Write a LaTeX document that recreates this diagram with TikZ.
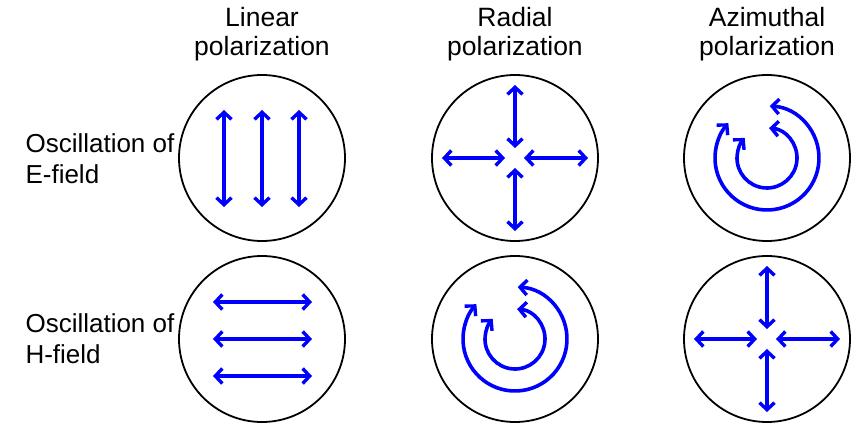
\documentclass[tikz,border=0pt]{standalone}
\usepackage{fontspec}
\setmainfont{Liberation Sans}
\usepackage{tikz}
\usetikzlibrary{arrows.meta}
\definecolor{FieldBlue}{HTML}{0000FF}
\tikzset{
  fieldarrow/.style={{Straight Barb[length=7pt,width=15pt,line width=3.4pt]}-{Straight Barb[length=7pt,width=15pt,line width=3.4pt]},
    line width=3.6pt, draw=FieldBlue, line cap=round},
  ring/.style={circle, draw=black, line width=1.8pt, minimum size=166pt, inner sep=0pt},
  heading/.style={align=center, font=\fontsize{26.5}{29}\selectfont}
}

\begin{document}
\begin{tikzpicture}[
  x=1pt, y=1pt,
  rowlabel/.style={align=left, anchor=base west, font=\fontsize{26}{31}\selectfont}
]
\useasboundingbox (0,0) rectangle (855,-423);

% column headings (base = last line)
\node[heading, anchor=base] at (262,-56) (hLin) {Linear\\polarization};
\node[heading, anchor=base] at (515,-56) (hRad) {Radial\\polarization};
\node[heading, anchor=base] at (767,-56) (hAzi) {Azimuthal\\polarization};

% row labels
\node[rowlabel] at (22,-183) (lE) {Oscillation of\\E-field};
\node[rowlabel] at (22,-363) (lH) {Oscillation of\\H-field};

% one ring per case
\node[ring] at (262,-158) (linE) {};
\node[ring] at (515,-158) (radE) {};
\node[ring] at (767,-158) (aziE) {};
\node[ring] at (262,-339) (linH) {};
\node[ring] at (515,-339) (radH) {};
\node[ring] at (767,-339) (aziH) {};

% linear: straight oscillation
\begin{scope}[shift={(linE.center)}]
  \foreach \dx in {-38,0,37}
    \draw[fieldarrow] (\dx,48) -- (\dx,-49);
\end{scope}
\begin{scope}[shift={(linH.center)}]
  \foreach \dy in {37,0,-37}
    \draw[fieldarrow] (-49,\dy) -- (50,\dy);
\end{scope}

% radial / azimuthal cross
\foreach \c in {radE,aziH}{
  \begin{scope}[shift={(\c.center)}]
    \draw[fieldarrow] (0,10) -- (0,73);
    \draw[fieldarrow] (0,-10) -- (0,-73);
    \draw[fieldarrow] (-10,0) -- (-73,0);
    \draw[fieldarrow] (9,0) -- (73,0);
  \end{scope}
}

% circulating field
\foreach \c in {aziE,radH}{
  \begin{scope}[shift={(\c.center)}]
    \draw[fieldarrow] (87:52) arc[start angle=87, end angle=-222, radius=52];
    \draw[fieldarrow] (86:30) arc[start angle=86, end angle=-222, radius=30];
  \end{scope}
}
\end{tikzpicture}
\end{document}
